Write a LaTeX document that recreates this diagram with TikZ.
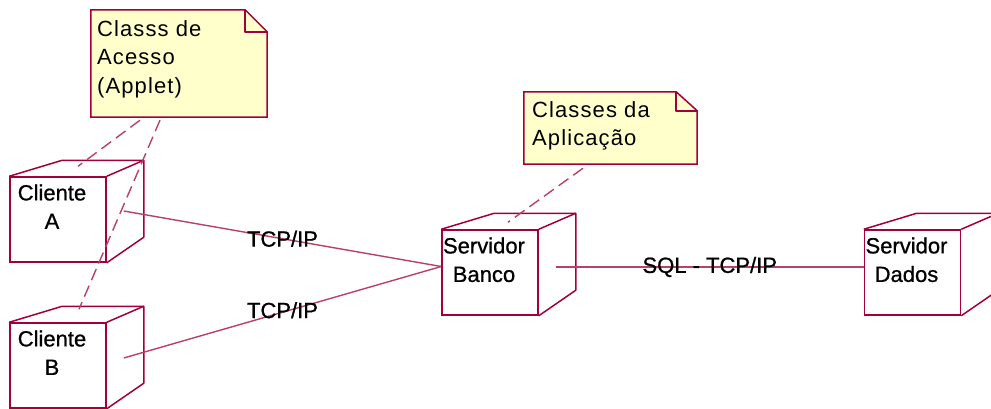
\documentclass[tikz,border=0pt]{standalone}
\usepackage{fontspec}
\setmainfont{Liberation Sans}
\newfontfamily\notefont[LetterSpace=5]{Liberation Sans}
\newfontfamily\nodefont[FakeBold=0.8]{Liberation Sans}
\usetikzlibrary{calc}

\begin{document}
\begin{tikzpicture}[x=1pt,y=-1pt]
\definecolor{crose}{RGB}{160,0,60}
\definecolor{cnote}{RGB}{255,255,204}
\tikzset{
  face/.style={draw=crose,line width=1.5pt,minimum width=96pt,minimum height=85pt,inner sep=0pt},
  side/.style={draw=crose,line width=1.5pt,line join=round},
  lbl/.style={anchor=north,inner sep=0pt,align=center,font=\nodefont\fontsize{22}{28.5}\selectfont},
  notearea/.style={inner sep=0pt},
  notebox/.style={fill=cnote,draw=crose,line width=1.5pt},
  notetext/.style={anchor=north west,inner sep=0pt,align=left,font=\notefont\fontsize{22}{28.5}\selectfont},
  link/.style={draw=crose!75,line width=1.4pt},
  noteline/.style={draw=crose!75,line width=1.4pt,dash pattern=on 12pt off 6pt},
  tag/.style={inner sep=0pt,font=\nodefont\fontsize{22}{26}\selectfont}
}
\useasboundingbox (0,0) rectangle (991,408);
\clip (0,0) rectangle (991,408);
\fill[white] (0,0) rectangle (991,408);
\node[notearea,minimum width=176pt,minimum height=107pt] (acesso) at (179,63.5) {};
\filldraw[notebox] (acesso.north west) -- ($(acesso.north east)+(-22,0)$) -- ($(acesso.north east)+(0,22)$) -- (acesso.south east) -- (acesso.south west) -- cycle;
\draw[side] ($(acesso.north east)+(-22,0)$) -- ++(0,22) -- ++(22,0);
\node[notetext] (acessotxt) at (97,20) {Classs de\\Acesso\\(Applet)};
\node[notearea,minimum width=173pt,minimum height=72pt] (aplic) at (610.5,128) {};
\filldraw[notebox] (aplic.north west) -- ($(aplic.north east)+(-21,0)$) -- ($(aplic.north east)+(0,19)$) -- (aplic.south east) -- (aplic.south west) -- cycle;
\draw[side] ($(aplic.north east)+(-21,0)$) -- ++(0,19) -- ++(21,0);
\node[notetext] (aplictxt) at (532,101) {Classes da\\Aplicação};
\node[face] (ca) at (58,219.5) {};
\draw[side] (ca.north west) -- ++(53,-16) -- ($(ca.north east)+(37,-16)$) -- ++(0,77) -- (ca.south east);
\draw[side] (ca.north east) -- ++(37,-16);
\node[lbl] (catxt) at ($(ca.north)+(-6,8)$) {Cliente\\A};
\node[face] (cb) at (58,365.5) {};
\draw[side] (cb.north west) -- ++(53,-16) -- ($(cb.north east)+(37,-16)$) -- ++(0,77) -- (cb.south east);
\draw[side] (cb.north east) -- ++(37,-16);
\node[lbl] (cbtxt) at ($(cb.north)+(-6,8)$) {Cliente\\B};
\node[face] (sb) at (490,272.5) {};
\draw[side] (sb.north west) -- ++(53,-16) -- ($(sb.north east)+(37,-16)$) -- ++(0,77) -- (sb.south east);
\draw[side] (sb.north east) -- ++(37,-16);
\node[lbl] (sbtxt) at ($(sb.north)+(-6,8)$) {Servidor\\Banco};
\node[face] (sd) at (912.5,272.5) {};
\draw[side] (sd.north west) -- ++(53,-16) -- ($(sd.north east)+(37,-16)$) -- ++(0,77) -- (sd.south east);
\draw[side] (sd.north east) -- ++(37,-16);
\node[lbl] (sdtxt) at ($(sd.north)+(-6,8)$) {Servidor\\Dados};
\draw[link] ($(ca.east)+(17,-8.5)$) -- node[tag] (tcpa) {TCP/IP} ($(sb.west)+(0,-6)$);
\draw[link] ($(cb.east)+(17,-7.5)$) -- node[tag,yshift=2pt] (tcpb) {TCP/IP} ($(sb.west)+(0,-6)$);
\draw[link] ($(sb.east)+(17,-5.5)$) -- node[tag] (sqltcp) {SQL - TCP/IP} ($(sd.west)+(0,-5.5)$);
\draw[noteline] ($(acesso.south)+(-39,3)$) -- ($(ca.north)+(20,-10)$);
\draw[noteline] ($(acesso.south)+(-19,3)$) -- ($(cb.north)+(21,-13)$);
\draw[noteline] ($(aplic.south)+(-27.5,4)$) -- ($(sb.north)+(18,-7)$);
\end{tikzpicture}
\end{document}
